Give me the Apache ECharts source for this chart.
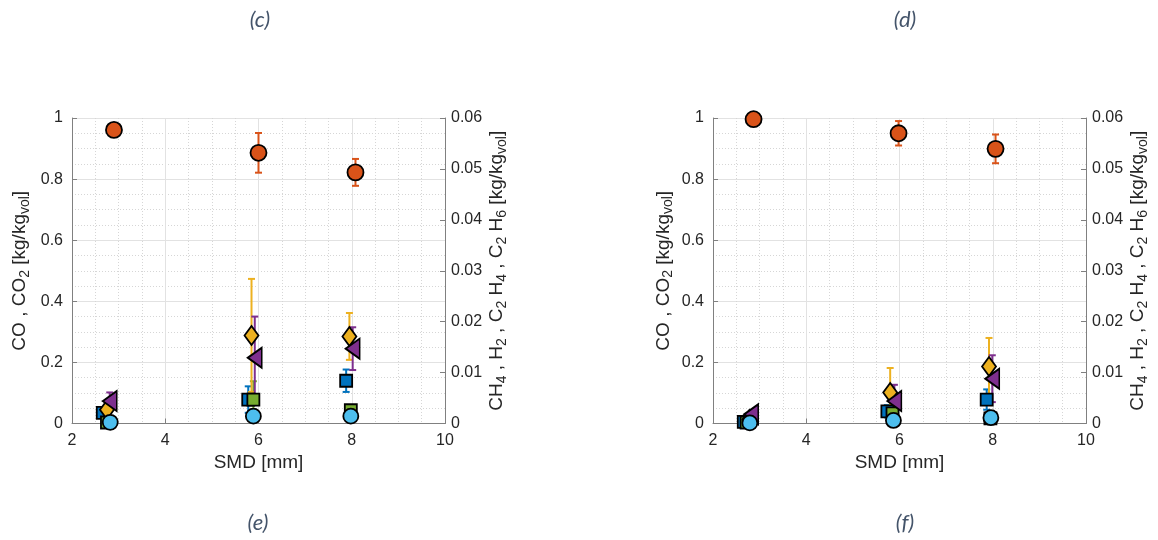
<!DOCTYPE html>
<html><head><meta charset="utf-8">
<script src="https://cdn.jsdelivr.net/npm/echarts@6/dist/echarts.min.js"></script>
<style>html,body{margin:0;padding:0;background:#fff}#c{width:1158px;height:540px}</style>
</head><body><div id="c"></div>
<script>
// ---------- data ----------
const xTicks = [2, 4, 6, 8, 10];
const captions = ['(c)', '(d)', '(e)', '(f)'];
const xName = 'SMD [mm]';

// Left panel (left axis: CO, CO2 ; right axis: CH4, H2, C2H4, C2H6)
const L_orange_x = [2.90, 6.00, 8.08];
const L_orange_y = [0.961, 0.886, 0.822];
const L_orange_e = [0, 0.065, 0.044];
const L_cyan_x = [2.82, 5.89, 7.98];
const L_cyan_y = [0.004, 0.024, 0.024];
const L_cyan_e = [0, 0, 0];
const L_blue_x = [2.66, 5.78, 7.88];
const L_blue_y = [0.0021, 0.0047, 0.0084];
const L_blue_e = [0, 0.0026, 0.0022];
const L_green_x = [2.75, 5.89, 7.98];
const L_green_y = [0.0002, 0.0047, 0.0026];
const L_green_e = [0, 0.0036, 0];
const L_yellow_x = [2.75, 5.85, 7.95];
const L_yellow_y = [0.0027, 0.0173, 0.0171];
const L_yellow_e = [0, 0.0111, 0.0046];
const L_purple_x = [2.81, 5.92, 8.02];
const L_purple_y = [0.0044, 0.0129, 0.0147];
const L_purple_e = [0.0017, 0.0081, 0.0042];

// Right panel
const R_orange_x = [2.87, 5.98, 8.06];
const R_orange_y = [0.996, 0.950, 0.899];
const R_orange_e = [0, 0.040, 0.047];
const R_cyan_x = [2.79, 5.87, 7.96];
const R_cyan_y = [0.002, 0.010, 0.019];
const R_cyan_e = [0, 0, 0];
const R_blue_x = [2.66, 5.74, 7.87];
const R_blue_y = [0.0003, 0.0024, 0.0047];
const R_blue_e = [0, 0.0012, 0.0020];
const R_green_x = [2.72, 5.85, 7.95];
const R_green_y = [0.0002, 0.0020, 0.0010];
const R_green_e = [0, 0.0010, 0];
const R_yellow_x = [2.78, 5.80, 7.92];
const R_yellow_y = [0.0008, 0.0061, 0.0112];
const R_yellow_e = [0, 0.0048, 0.0056];
const R_purple_x = [2.82, 5.89, 7.99];
const R_purple_y = [0.0018, 0.0044, 0.0088];
const R_purple_e = [0, 0.0032, 0.0046];

// ---------- styles ----------
const FONT = '"Liberation Sans", Arial, sans-serif';
const AX = '#808080';
const TXT = '#262626';
const C = {orange:'#D95319', cyan:'#4DBEEE', blue:'#0072BD', green:'#77AC30', yellow:'#EDB120', purple:'#7E2F8E'};

const rich = {
  m: {fontSize: 19, lineHeight: 19, padding: [0, 0, 5, 0], fontFamily: FONT, color: TXT},
  s: {fontSize: 14, lineHeight: 14, verticalAlign: 'bottom', fontFamily: FONT, color: TXT}
};
const leftName = '{m|CO , CO}{s|2}{m| [kg/kg}{s|vol}{m|]}';
const rightName = '{m|CH}{s|4}{m| , H}{s|2}{m| , C}{s|2}{m| H}{s|4}{m| , C}{s|2}{m| H}{s|6}{m| [kg/kg}{s|vol}{m|]}';

function xAxisDef(g) {
  return {
    type: 'value', gridIndex: g, min: xTicks[0], max: xTicks[xTicks.length - 1], interval: 2,
    name: xName, nameLocation: 'middle', nameGap: 29,
    nameTextStyle: {fontSize: 19, color: TXT, fontFamily: FONT},
    axisLine: {show: true, onZero: false, lineStyle: {color: AX, width: 1}},
    axisTick: {show: true, inside: true, length: 5, lineStyle: {color: AX}},
    axisLabel: {fontSize: 16, color: TXT, fontFamily: FONT, margin: 9},
    splitLine: {show: true, lineStyle: {color: '#e2e2e2', width: 1}},
    minorTick: {show: false, splitNumber: 4},
    minorSplitLine: {show: true, lineStyle: {color: '#d6d6d6', width: 1, type: [1, 2]}}
  };
}
function yLeftDef(g, gap) {
  return {
    type: 'value', gridIndex: g, position: 'left', min: 0, max: 1, interval: 0.2,
    name: leftName, nameLocation: 'middle', nameRotate: 90, nameGap: gap,
    nameTextStyle: {rich: rich},
    axisLine: {show: true, onZero: false, lineStyle: {color: AX, width: 1}},
    axisTick: {show: true, inside: true, length: 5, lineStyle: {color: AX}},
    axisLabel: {fontSize: 16, color: TXT, fontFamily: FONT, margin: 9},
    splitLine: {show: true, lineStyle: {color: '#e2e2e2', width: 1}},
    minorTick: {show: false, splitNumber: 4},
    minorSplitLine: {show: true, lineStyle: {color: '#d6d6d6', width: 1, type: [1, 2]}}
  };
}
function yRightDef(g, gap) {
  return {
    type: 'value', gridIndex: g, position: 'right', min: 0, max: 0.06, interval: 0.01,
    name: rightName, nameLocation: 'middle', nameRotate: 90, nameGap: gap,
    nameTextStyle: {rich: rich},
    axisLine: {show: true, onZero: false, lineStyle: {color: AX, width: 1}},
    axisTick: {show: true, inside: true, length: 5, lineStyle: {color: AX}},
    axisLabel: {fontSize: 16, color: TXT, fontFamily: FONT, margin: 6},
    splitLine: {show: false}
  };
}

function pts(xs, ys) { return xs.map((x, i) => [x, ys[i]]); }
function errData(xs, ys, es) {
  const out = [];
  xs.forEach((x, i) => { if (es[i] > 0) out.push([x, ys[i] - es[i], ys[i] + es[i]]); });
  return out;
}
function errSeries(xi, yi, xs, ys, es, color) {
  return {
    type: 'custom', xAxisIndex: xi, yAxisIndex: yi, z: 2, silent: true,
    data: errData(xs, ys, es),
    renderItem: function (params, api) {
      const x = api.value(0);
      const p1 = api.coord([x, api.value(1)]);
      const p2 = api.coord([x, api.value(2)]);
      const cw = 3.5;
      const st = {stroke: color, lineWidth: 2};
      return {type: 'group', children: [
        {type: 'line', shape: {x1: p1[0], y1: p1[1], x2: p2[0], y2: p2[1]}, style: st},
        {type: 'line', shape: {x1: p1[0] - cw, y1: p1[1], x2: p1[0] + cw, y2: p1[1]}, style: st},
        {type: 'line', shape: {x1: p2[0] - cw, y1: p2[1], x2: p2[0] + cw, y2: p2[1]}, style: st}
      ]};
    }
  };
}
function mark(xi, yi, xs, ys, symbol, size, color, rot) {
  return {
    type: 'scatter', xAxisIndex: xi, yAxisIndex: yi, z: 3, silent: true,
    data: pts(xs, ys), symbol: symbol, symbolSize: size, symbolRotate: rot || 0,
    itemStyle: {color: color, borderColor: '#000', borderWidth: 1.8, opacity: 1}
  };
}

function panel(g, P) {
  const xi = g, yl = g * 2, yr = g * 2 + 1;
  return [
    errSeries(xi, yr, P.blue_x, P.blue_y, P.blue_e, C.blue),
    errSeries(xi, yr, P.green_x, P.green_y, P.green_e, C.green),
    errSeries(xi, yr, P.yellow_x, P.yellow_y, P.yellow_e, C.yellow),
    errSeries(xi, yr, P.purple_x, P.purple_y, P.purple_e, C.purple),
    errSeries(xi, yl, P.cyan_x, P.cyan_y, P.cyan_e, C.cyan),
    errSeries(xi, yl, P.orange_x, P.orange_y, P.orange_e, C.orange),
    mark(xi, yr, P.blue_x, P.blue_y, 'rect', 12, C.blue),
    mark(xi, yr, P.green_x, P.green_y, 'rect', 12, C.green),
    mark(xi, yr, P.yellow_x, P.yellow_y, 'diamond', [14, 19], C.yellow),
    mark(xi, yr, P.purple_x, P.purple_y, 'triangle', [20, 14], C.purple, 90),
    mark(xi, yl, P.cyan_x, P.cyan_y, 'circle', 15, C.cyan),
    mark(xi, yl, P.orange_x, P.orange_y, 'circle', 16, C.orange)
  ];
}

const PL = {orange_x:L_orange_x, orange_y:L_orange_y, orange_e:L_orange_e, cyan_x:L_cyan_x, cyan_y:L_cyan_y, cyan_e:L_cyan_e,
  blue_x:L_blue_x, blue_y:L_blue_y, blue_e:L_blue_e, green_x:L_green_x, green_y:L_green_y, green_e:L_green_e,
  yellow_x:L_yellow_x, yellow_y:L_yellow_y, yellow_e:L_yellow_e, purple_x:L_purple_x, purple_y:L_purple_y, purple_e:L_purple_e};
const PR = {orange_x:R_orange_x, orange_y:R_orange_y, orange_e:R_orange_e, cyan_x:R_cyan_x, cyan_y:R_cyan_y, cyan_e:R_cyan_e,
  blue_x:R_blue_x, blue_y:R_blue_y, blue_e:R_blue_e, green_x:R_green_x, green_y:R_green_y, green_e:R_green_e,
  yellow_x:R_yellow_x, yellow_y:R_yellow_y, yellow_e:R_yellow_e, purple_x:R_purple_x, purple_y:R_purple_y, purple_e:R_purple_e};

const capFont = 'italic 22px Lato, "Open Sans", sans-serif';
const capPos = [[260, 20], [905, 20], [258, 523], [905, 523]];

const chart = echarts.init(document.getElementById('c'), null, {renderer: 'canvas'});
chart.setOption({
  animation: false,
  backgroundColor: '#fff',
  grid: [
    {left: 72, top: 118, width: 373, height: 305.5},
    {left: 713, top: 118, width: 373, height: 305.5}
  ],
  xAxis: [xAxisDef(0), xAxisDef(1)],
  yAxis: [yLeftDef(0, 40), yRightDef(0, 45), yLeftDef(1, 37), yRightDef(1, 45)],
  series: [].concat(panel(0, PL), panel(1, PR)),
  graphic: captions.map((t, i) => ({
    type: 'text', x: capPos[i][0], y: capPos[i][1], silent: true,
    style: {text: t, font: capFont, fill: '#44546A', align: 'center', verticalAlign: 'middle', textAlign: 'center', textVerticalAlign: 'middle'}
  }))
});
</script>
</body></html>
